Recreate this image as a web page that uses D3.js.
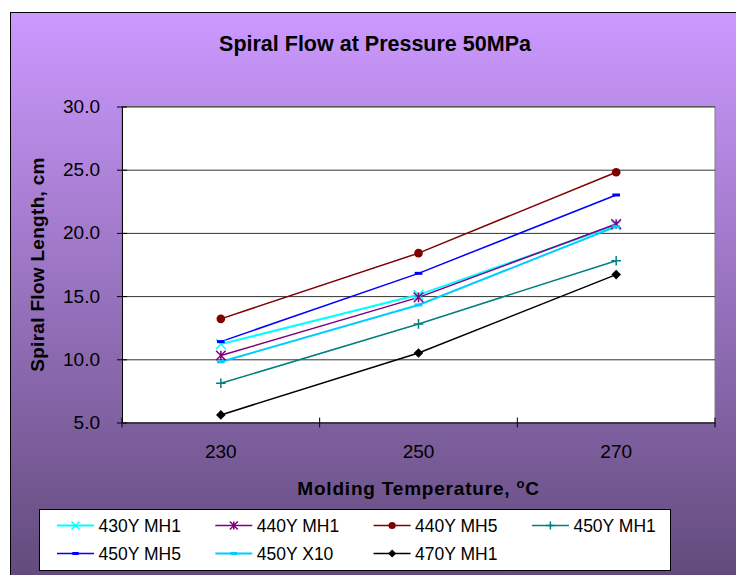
<!DOCTYPE html>
<html>
<head>
<meta charset="utf-8">
<script src="https://cdn.jsdelivr.net/npm/d3@7"></script>
<style>
  html, body { margin: 0; padding: 0; background: #fff; }
  svg { display: block; font-family: "Liberation Sans", Arial, sans-serif; }
</style>
</head>
<body>
<div id="chart"></div>
<script>
// data
const temps = ['230', '250', '270'];
const yTicks = [5, 10, 15, 20, 25, 30];

const s430MH1 = [11.2, 15.1, 20.6];
const s440MH1 = [10.3, 14.9, 20.7];
const s440MH5 = [13.2, 18.4, 24.8];
const s450MH1 = [8.1, 12.8, 17.8];
const s450MH5 = [11.4, 16.8, 23.0];
const s450X10 = [9.8, 14.3, 20.5];
const s470MH1 = [5.6, 10.5, 16.7];

const seriesNames = ['430Y MH1', '440Y MH1', '440Y MH5', '450Y MH1', '450Y MH5', '450Y X10', '470Y MH1'];
const seriesValues = [s430MH1, s440MH1, s440MH5, s450MH1, s450MH5, s450X10, s470MH1];
const seriesColors = ['#00ffff', '#800080', '#800000', '#008080', '#0000ff', '#00ccff', '#000000'];
const seriesMarkers = ['x', 'star', 'circle', 'plus', 'dash', 'dash', 'diamond'];
const seriesWidths = [2, 1.5, 1.5, 1.5, 1.5, 2, 1.5];

const width = 736, height = 575;
const plot = { left: 122, right: 715, top: 106.5, bottom: 422.5 };
const fontMain = '"Liberation Sans", Arial, sans-serif';

const svg = d3.select('#chart').append('svg')
    .attr('width', width)
    .attr('height', height);

// background gradient
const defs = svg.append('defs');
const grad = defs.append('linearGradient')
    .attr('id', 'bg')
    .attr('x1', 0).attr('y1', 0).attr('x2', 0).attr('y2', 1);
grad.append('stop').attr('offset', '0%').attr('stop-color', '#cc99ff');
grad.append('stop').attr('offset', '100%').attr('stop-color', '#5e4877');

svg.append('rect')
    .attr('x', 10.5).attr('y', 12.5)
    .attr('width', width + 10).attr('height', height + 10)
    .attr('fill', 'url(#bg)')
    .attr('stroke', '#000')
    .attr('stroke-width', 1);

const xScale = d3.scaleBand()
    .domain(temps)
    .range([plot.left, plot.right]);

const yScale = d3.scaleLinear()
    .domain([5, 30])
    .range([plot.bottom, plot.top]);

// plot area
svg.append('rect')
    .attr('x', plot.left).attr('y', plot.top)
    .attr('width', plot.right - plot.left)
    .attr('height', plot.bottom - plot.top)
    .attr('fill', '#fff')
    .attr('stroke', '#808080')
    .attr('stroke-width', 1);

// gridlines
svg.append('g')
    .attr('class', 'grid')
    .attr('transform', `translate(${plot.left},0)`)
    .call(d3.axisLeft(yScale)
        .tickValues(yTicks.slice(1))
        .tickSize(-(plot.right - plot.left))
        .tickFormat(''))
    .call(g => g.select('.domain').remove())
    .selectAll('.tick line')
    .attr('stroke', '#333');

// y axis
const yAxis = svg.append('g')
    .attr('class', 'y-axis')
    .attr('transform', `translate(${plot.left},0)`)
    .call(d3.axisLeft(yScale)
        .tickValues(yTicks)
        .tickFormat(d3.format('.1f'))
        .tickSizeInner(5)
        .tickSizeOuter(0)
        .tickPadding(17));
yAxis.selectAll('.tick line').attr('x1', 5).attr('stroke', '#000');
yAxis.select('.domain').attr('stroke', '#000');
yAxis.selectAll('text')
    .attr('font-size', 19)
    .attr('fill', '#000')
    .attr('font-family', fontMain);

// x axis
const xAxis = svg.append('g')
    .attr('class', 'x-axis')
    .attr('transform', `translate(0,${plot.bottom})`)
    .call(d3.axisBottom(xScale).tickSize(0).tickPadding(22));
xAxis.select('.domain').attr('stroke', '#000');
xAxis.selectAll('text')
    .attr('font-size', 19)
    .attr('fill', '#000')
    .attr('font-family', fontMain);

// category boundary ticks
const bounds = temps.map(t => xScale(t)).concat([xScale.range()[1]]);
xAxis.selectAll('.cat-tick')
    .data(bounds)
    .enter()
    .append('line')
    .attr('class', 'cat-tick')
    .attr('x1', d => d).attr('x2', d => d)
    .attr('y1', -5).attr('y2', 5)
    .attr('stroke', '#000');

// title
svg.append('text')
    .attr('x', 375)
    .attr('y', 51)
    .attr('text-anchor', 'middle')
    .attr('font-size', 21.5)
    .attr('font-weight', 'bold')
    .attr('fill', '#000')
    .text('Spiral Flow at Pressure 50MPa');

// x axis title
const xt = svg.append('text')
    .attr('x', (plot.left + plot.right) / 2)
    .attr('y', 495)
    .attr('text-anchor', 'middle')
    .attr('font-size', 19)
    .attr('font-weight', 'bold')
    .attr('letter-spacing', 0.8)
    .attr('fill', '#000');
xt.append('tspan').text('Molding Temperature, ');
xt.append('tspan').attr('dy', -7).attr('font-size', 13).text('o');
xt.append('tspan').attr('dy', 7).text('C');

// y axis title
svg.append('text')
    .attr('transform', `translate(44,${(plot.top + plot.bottom) / 2}) rotate(-90)`)
    .attr('text-anchor', 'middle')
    .attr('font-size', 19)
    .attr('font-weight', 'bold')
    .attr('letter-spacing', 0.3)
    .attr('fill', '#000')
    .text('Spiral Flow Length, cm');

// marker drawing
function drawMarker(g, type, color, s) {
    if (type === 'x') {
        g.append('path').attr('d', `M${-s},${-s}L${s},${s}M${-s},${s}L${s},${-s}`)
            .attr('stroke', color).attr('stroke-width', 1.5).attr('fill', 'none');
    } else if (type === 'star') {
        g.append('path').attr('d', `M${-s},${-s}L${s},${s}M${-s},${s}L${s},${-s}M0,${-s}L0,${s}`)
            .attr('stroke', color).attr('stroke-width', 1.5).attr('fill', 'none');
    } else if (type === 'plus') {
        g.append('path').attr('d', `M${-s},0L${s},0M0,${-s}L0,${s}`)
            .attr('stroke', color).attr('stroke-width', 1.5).attr('fill', 'none');
    } else if (type === 'circle') {
        g.append('circle').attr('r', s * 0.9).attr('fill', color);
    } else if (type === 'diamond') {
        g.append('path').attr('d', `M0,${-s}L${s},0L0,${s}L${-s},0Z`).attr('fill', color);
    } else if (type === 'dash') {
        g.append('rect').attr('x', -s * 0.8).attr('y', -1.5)
            .attr('width', s * 1.6).attr('height', 3).attr('fill', color);
    }
}

const seriesData = seriesNames.map((name, i) => ({
    name: name,
    color: seriesColors[i],
    marker: seriesMarkers[i],
    width: seriesWidths[i],
    values: temps.map((t, j) => ({ temp: t, value: seriesValues[i][j] }))
}));

const line = d3.line()
    .x(d => xScale(d.temp) + xScale.bandwidth() / 2)
    .y(d => yScale(d.value));

const seriesG = svg.append('g').attr('class', 'series');
seriesData.forEach(s => {
    seriesG.append('path')
        .attr('fill', 'none')
        .attr('stroke', s.color)
        .attr('stroke-width', s.width)
        .attr('d', line(s.values));
});
seriesData.forEach(s => {
    s.values.forEach(d => {
        const m = seriesG.append('g')
            .attr('transform', `translate(${xScale(d.temp) + xScale.bandwidth() / 2},${yScale(d.value)})`);
        drawMarker(m, s.marker, s.color, 4.8);
    });
});

// legend
const legend = svg.append('g').attr('class', 'legend');
legend.append('rect')
    .attr('x', 39.5).attr('y', 509.5)
    .attr('width', 631).attr('height', 61)
    .attr('fill', '#fff')
    .attr('stroke', '#000');

const items = legend.selectAll('.item')
    .data(seriesData)
    .enter()
    .append('g')
    .attr('class', 'item')
    .attr('transform', (d, i) => `translate(${57 + (i % 4) * 158.3},${i < 4 ? 525.5 : 553.5})`);

items.append('line')
    .attr('x1', 0).attr('x2', 37)
    .attr('stroke', d => d.color)
    .attr('stroke-width', d => d.width);
items.each(function(d) {
    const m = d3.select(this).append('g').attr('transform', 'translate(18.5,0)');
    drawMarker(m, d.marker, d.color, 4);
});
items.append('text')
    .attr('x', 41.5)
    .attr('y', 6.3)
    .attr('font-size', 17.5)
    .attr('fill', '#000')
    .text(d => d.name);
</script>
</body>
</html>
